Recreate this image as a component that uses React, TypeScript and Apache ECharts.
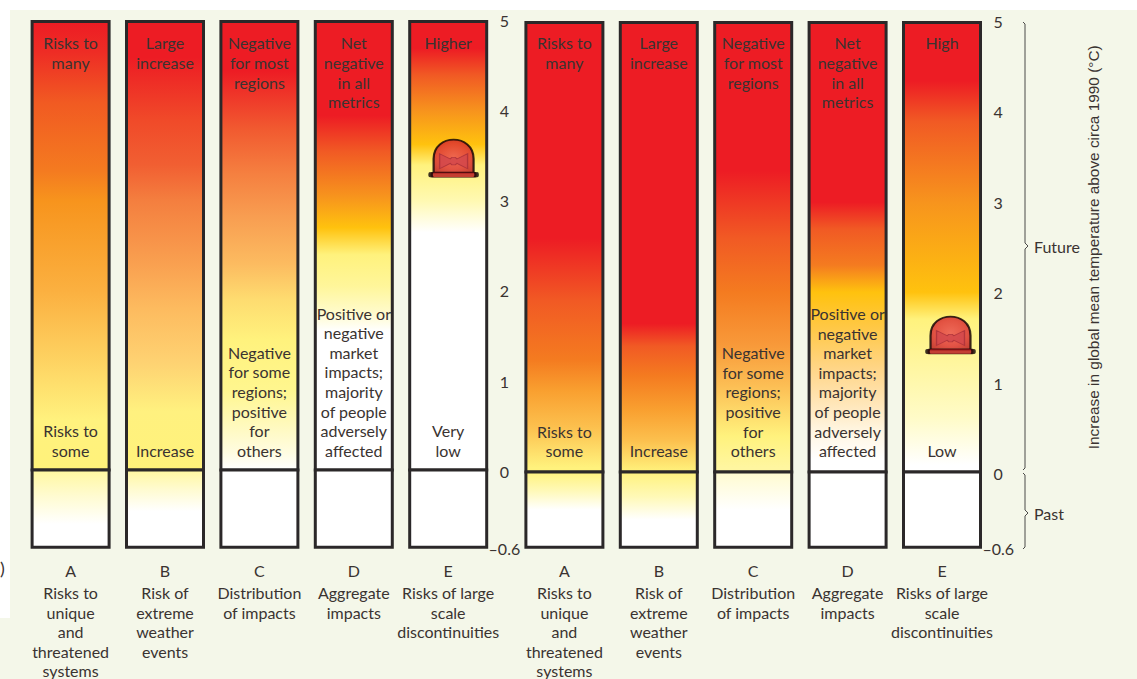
import React, { useEffect, useRef } from "react";
import * as echarts from "echarts";

const W = 1137;
const H = 679;
const FONT = 'Lato, "Liberation Sans", sans-serif';
const INK = "#3a3331";
const BAR = "#2b2829";

const categories = ["A", "B", "C", "D", "E"];
const axisDescriptions = [
  "Risks to\nunique\nand\nthreatened\nsystems",
  "Risk of\nextreme\nweather\nevents",
  "Distribution\nof impacts",
  "Aggregate\nimpacts",
  "Risks of large\nscale\ndiscontinuities",
];

const topTextsLeft = ["Risks to\nmany", "Large\nincrease", "Negative\nfor most\nregions", "Net\nnegative\nin all\nmetrics", "Higher"];
const topTextsRight = ["Risks to\nmany", "Large\nincrease", "Negative\nfor most\nregions", "Net\nnegative\nin all\nmetrics", "High"];
const bottomTexts = [
  "Risks to\nsome",
  "Increase",
  "Negative\nfor some\nregions;\npositive\nfor\nothers",
  "Positive or\nnegative\nmarket\nimpacts;\nmajority\nof people\nadversely\naffected",
];
const bottomTextLeftE = "Very\nlow";
const bottomTextRightE = "Low";

const futureTop = [5, 5, 5, 5, 5];
const pastBottom = [-0.6, -0.6, -0.6, -0.6, -0.6];
const bellLeft = 3.47;
const bellRight = 1.53;

type Stop = [number, string];
const RED = "#ed1c24";
const leftFuture: Stop[][] = [
  [[5, RED], [4.65, "#ee2d25"], [4.1, "#f15a22"], [3.33, "#f47b20"], [3, "#f7941d"], [2, "#fbb040"], [1.45, "#fdc858"], [0.55, "#fff27e"], [0, "#fff27a"]],
  [[5, RED], [4.6, RED], [3.9, "#f04a29"], [3.4, "#f15f32"], [3, "#f47f3f"], [2.3, "#f9a050"], [1.8, "#fdbb5f"], [1.2, "#fed272"], [0.65, "#fff17f"], [0, "#fff27a"]],
  [[5, RED], [4.45, RED], [3.8, "#f15a30"], [3.3, "#f58040"], [2.8, "#f89f52"], [2.3, "#fcbb60"], [1.9, "#fedc70"], [1.45, "#fff27d"], [0.9, "#fff68e"], [0.2, "#fffce0"], [0, "#ffffff"]],
  [[5, RED], [3.95, RED], [3.55, "#f15a24"], [3.05, "#f7941d"], [2.7, "#ffc20e"], [2.4, "#fff27d"], [2.05, "#fff69a"], [1.75, "#fffbcc"], [1.55, "#ffffff"], [0, "#ffffff"]],
  [[5, RED], [4.7, RED], [4.4, "#f15a24"], [4, "#f7941d"], [3.63, "#ffc20e"], [3.4, "#fff27d"], [3, "#fff9b2"], [2.65, "#ffffff"], [0, "#ffffff"]],
];
const rightFuture: Stop[][] = [
  [[5, RED], [2.6, RED], [1.9, "#f15a24"], [1.25, "#f47b20"], [0.9, "#f9a030"], [0.5, "#fcc04e"], [0.05, "#fff27d"], [0, "#fff27d"]],
  [[5, RED], [1.65, RED], [1.4, "#f15a24"], [1.07, "#f47b20"], [0.69, "#f9a030"], [0.35, "#fcc04e"], [0, "#fff27d"]],
  [[5, RED], [3.35, RED], [2.6, "#f15a24"], [2, "#f47b20"], [1.4, "#f89a3a"], [0.95, "#fcbf55"], [0.4, "#fff27d"], [0.05, "#fff6a0"], [0, "#fff6a0"]],
  [[5, RED], [3, RED], [2.7, "#f15a24"], [2.3, "#f47b20"], [2, "#ffc20e"], [1.6, "#ffc846"], [1.13, "#ffd68a"], [0.7, "#ffe9c0"], [0.47, "#fff5e0"], [0.13, "#ffffff"], [0, "#ffffff"]],
  [[5, RED], [4.35, RED], [3.9, "#f15a24"], [3, "#f7941d"], [2, "#ffc20e"], [1.7, "#fff27d"], [1.1, "#fff7a6"], [0.6, "#fffbc8"], [0.08, "#ffffff"], [0, "#ffffff"]],
];
const leftPast: Stop[][] = [
  [[0, "#fff7a0"], [-0.2, "#fffbd0"], [-0.42, "#ffffff"], [-0.6, "#ffffff"]],
  [[0, "#fff7a0"], [-0.15, "#fffbd0"], [-0.32, "#ffffff"], [-0.6, "#ffffff"]],
  [[0, "#ffffff"], [-0.6, "#ffffff"]],
  [[0, "#ffffff"], [-0.6, "#ffffff"]],
  [[0, "#ffffff"], [-0.6, "#ffffff"]],
];
const rightPast: Stop[][] = [
  [[0, "#fff27d"], [-0.15, "#fff9b8"], [-0.3, "#ffffff"], [-0.6, "#ffffff"]],
  [[0, "#fff27d"], [-0.2, "#fff9b8"], [-0.38, "#ffffff"], [-0.6, "#ffffff"]],
  [[0, "#fffbcf"], [-0.3, "#ffffff"], [-0.6, "#ffffff"]],
  [[0, "#ffffff"], [-0.6, "#ffffff"]],
  [[0, "#ffffff"], [-0.6, "#ffffff"]],
];

const DOME = "path://M0 100 L0 58 C0 18 26 0 50 0 C74 0 100 18 100 58 L100 100 Z";
const BASE = "path://M4 0 L96 0 C100 0 100 100 96 100 L4 100 C0 100 0 0 4 0 Z";
const BOW = "path://M0 10 L38 38 L44 30 L56 30 L62 38 L100 10 L100 90 L62 62 L56 70 L44 70 L38 62 L0 90 Z";

function gradient(stops: Stop[], top: number, bottom: number) {
  return new echarts.graphic.LinearGradient(
    0, 0, 0, 1,
    stops.map(([v, color]) => ({ offset: (top - v) / (top - bottom), color }))
  );
}

function textStyleLabel(position: string, distance: number, texts: string[]) {
  return {
    show: true,
    position,
    distance,
    fontFamily: FONT,
    fontSize: 16,
    lineHeight: 19.6,
    color: INK,
    align: "center",
    formatter: (p: any) => texts[p.dataIndex] ?? "",
  };
}

function panel(
  idx: number,
  left: number,
  top: number,
  zero: number,
  bottom: number,
  futureStops: Stop[][],
  pastStops: Stop[][],
  topTexts: string[],
  bottoms: string[],
  bell: number,
  bellOffset: number,
  withTitle: boolean,
  topGap: number,
  bottomGap: number
) {
  const w = 472;
  const upper = idx * 2;
  const lower = idx * 2 + 1;
  const barStyle = { borderColor: BAR, borderWidth: 3 };
  const bellData = [[categories[4], bell]];
  const bellBase = {
    type: "scatter" as const,
    xAxisIndex: upper,
    yAxisIndex: upper,
    data: bellData,
    silent: true,
    z: 6,
  };
  return {
    grid: [
      { left, top, width: w, height: zero + 1.5 - top },
      { left, top: zero - 1.5, width: w, height: bottom - zero + 1.5 },
    ],
    xAxis: [
      { gridIndex: upper, type: "category", data: categories, show: false },
      {
        gridIndex: lower,
        type: "category",
        data: categories,
        axisLine: { show: false },
        axisTick: { show: false },
        axisLabel: {
          interval: 0,
          margin: 9,
          hideOverlap: false,
          fontFamily: FONT,
          color: INK,
          formatter: (_: string, i: number) => `{l|${categories[i]}}\n${axisDescriptions[i].split("\n").map((s) => `{d|${s}}`).join("\n")}`,
          rich: {
            l: { fontFamily: FONT, fontSize: 16, lineHeight: 25, color: INK, align: "center" },
            d: { fontFamily: FONT, fontSize: 16, lineHeight: 19.6, color: INK, align: "center" },
          },
        },
      },
    ],
    yAxis: [
      {
        gridIndex: upper,
        type: "value",
        position: "right",
        min: 0,
        max: 5,
        interval: 1,
        splitLine: { show: false },
        axisLine: { show: false },
        axisTick: { show: false },
        axisLabel: { margin: 9, align: "center", fontFamily: FONT, fontSize: 16, color: INK },
        ...(withTitle
          ? {
              name: "Increase in global mean temperature above circa 1990 (°C)",
              nameLocation: "middle",
              nameRotate: 90,
              nameGap: 97,
              nameTextStyle: { fontFamily: '"Liberation Sans", sans-serif', fontSize: 15.4, color: INK },
            }
          : {}),
      },
      {
        gridIndex: lower,
        type: "value",
        position: "right",
        min: -0.6,
        max: 0,
        interval: 0.6,
        splitLine: { show: false },
        axisLine: { show: false },
        axisTick: { show: false },
        axisLabel: {
          margin: 9,
          align: "center",
          fontFamily: FONT,
          fontSize: 16,
          color: INK,
          formatter: (v: number) => (v < 0 ? `–${Math.abs(v)}` : ""),
        },
      },
    ],
    series: [
      {
        type: "bar",
        xAxisIndex: upper,
        yAxisIndex: upper,
        barWidth: 80,
        barGap: "-100%",
        z: 2,
        silent: true,
        data: futureTop.map((value, i) => ({
          value,
          itemStyle: { color: gradient(futureStops[i], 5, 0), ...barStyle },
        })),
        label: textStyleLabel("insideTop", topGap, topTexts),
      },
      {
        type: "bar",
        xAxisIndex: upper,
        yAxisIndex: upper,
        barWidth: 80,
        barGap: "-100%",
        z: 3,
        silent: true,
        itemStyle: { color: "rgba(0,0,0,0)" },
        data: futureTop,
        label: textStyleLabel("insideBottom", bottomGap, bottoms),
      },
      {
        type: "bar",
        xAxisIndex: lower,
        yAxisIndex: lower,
        barWidth: 80,
        z: 2,
        silent: true,
        data: pastBottom.map((value, i) => ({
          value,
          itemStyle: { color: gradient(pastStops[i], 0, -0.6), ...barStyle },
        })),
      },
      {
        ...bellBase,
        symbol: DOME,
        symbolSize: [40, 33],
        symbolOffset: [bellOffset, -2],
        itemStyle: {
          color: new echarts.graphic.RadialGradient(0.5, 0.5, 0.65, [
            { offset: 0, color: "#e9474c" },
            { offset: 0.6, color: "#dc2b33" },
            { offset: 1, color: "#b8141c" },
          ]),
          borderColor: "#0d0304",
          borderWidth: 2,
        },
      },
      {
        ...bellBase,
        symbol: BOW,
        symbolSize: [28, 15],
        symbolOffset: [bellOffset, 3],
        z: 7,
        itemStyle: { color: "#d2474c", borderColor: "#a93038", borderWidth: 1, opacity: 0.8 },
      },
      {
        ...bellBase,
        symbol: BASE,
        symbolSize: [46, 5],
        symbolOffset: [bellOffset, 16.5],
        z: 8,
        itemStyle: { color: "#b5121b", borderColor: "#0d0304", borderWidth: 1.5 },
      },
    ],
  };
}

export default function App() {
  const ref = useRef<HTMLDivElement>(null);

  useEffect(() => {
    if (!ref.current) return;
    const chart = echarts.init(ref.current, undefined, { renderer: "svg", width: W, height: H });
    const a = panel(0, 23.4, 20, 470, 552.5, leftFuture, leftPast, topTextsLeft, [...bottomTexts, bottomTextLeftE], bellLeft, 5.4, false, 13, 11.5);
    const b = panel(1, 517.2, 21, 472, 553.7, rightFuture, rightPast, topTextsRight, [...bottomTexts, bottomTextRightE], bellRight, 8.5, true, 12, 13);
    const brace = { stroke: "#4a4a48", lineWidth: 1, fill: "none" };
    chart.setOption({
      animation: false,
      backgroundColor: "#ffffff",
      grid: [...a.grid, ...b.grid],
      xAxis: [...a.xAxis, ...b.xAxis],
      yAxis: [...a.yAxis, ...b.yAxis],
      series: [...a.series, ...b.series],
      graphic: [
        { type: "rect", z: -2, silent: true, shape: { x: 10, y: 10, width: W - 10, height: H - 10 }, style: { fill: "#f4f7e9" } },
        { type: "rect", z: -2, silent: true, shape: { x: 0, y: 618, width: 10, height: H - 618 }, style: { fill: "#f4f7e9" } },
        { type: "text", z: 5, silent: true, x: 0, y: 559, style: { text: ")", fontFamily: FONT, fontSize: 18, fill: INK } },
        {
          type: "polyline", z: 5, silent: true,
          shape: { points: [[1023, 22], [1025, 24], [1025, 243], [1028, 246], [1025, 249], [1025, 468], [1023, 470]] },
          style: brace,
        },
        {
          type: "polyline", z: 5, silent: true,
          shape: { points: [[1023, 473], [1025, 475], [1025, 510], [1028, 513], [1025, 516], [1025, 547], [1023, 549]] },
          style: brace,
        },
        { type: "text", z: 5, silent: true, x: 1034, y: 238, style: { text: "Future", fontFamily: FONT, fontSize: 16, fill: INK } },
        { type: "text", z: 5, silent: true, x: 1034, y: 505, style: { text: "Past", fontFamily: FONT, fontSize: 16, fill: INK } },
      ],
    });
    return () => chart.dispose();
  }, []);

  return <div ref={ref} style={{ position: "absolute", left: 0, top: 0, width: W, height: H }} />;
}
